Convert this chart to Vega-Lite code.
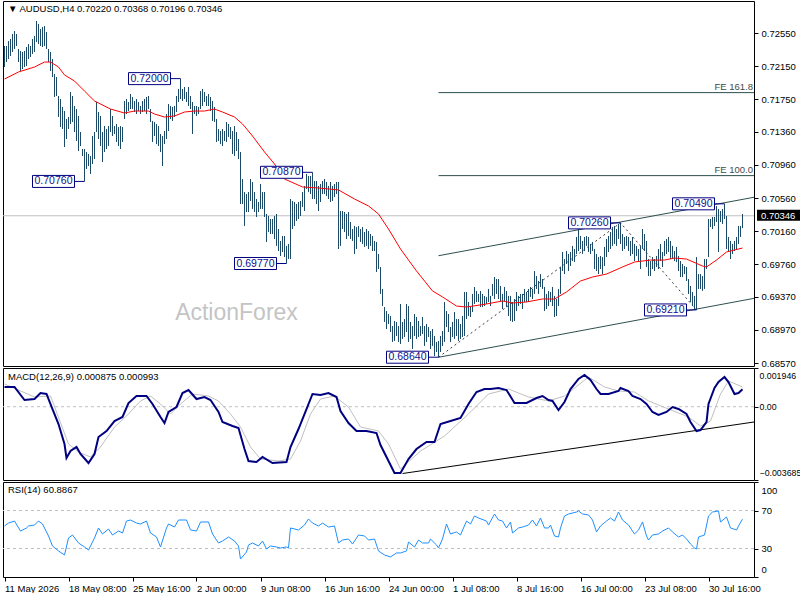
{
  "$schema": "https://vega.github.io/schema/vega-lite/v6.json",
  "padding": {"left": 0, "top": 0, "right": 0, "bottom": 0},
  "background": "white",
  "spacing": 2,
  "bounds": "flush",
  "config": {
    "view": {"stroke": "#000000", "strokeWidth": 1},
    "font": "Liberation Sans",
    "axis": {"labelFont": "Liberation Sans", "labelFontSize": 9.5, "labelColor": "#000000", "tickColor": "#000000", "tickSize": 4, "domain": false, "grid": false, "labelPadding": 3, "labelOverlap": false},
    "title": {"font": "Liberation Sans", "fontSize": 9.5, "fontWeight": "normal", "color": "#000000", "anchor": "start", "frame": "group", "baseline": "alphabetic"}
  },
  "resolve": {"scale": {"x": "independent", "y": "independent"}},
  "datasets": {
    "bars": [
      {"i":0,"h":0.72393,"l":0.72140},{"i":1,"h":0.72393,"l":0.72200},{"i":2,"h":0.72453,"l":0.72236},{"i":3,"h":0.72478,"l":0.72273},{"i":4,"h":0.72538,"l":0.72321},{"i":5,"h":0.72574,"l":0.72357},{"i":6,"h":0.72538,"l":0.72393},{"i":7,"h":0.72357,"l":0.72200},{"i":8,"h":0.72333,"l":0.72092},{"i":9,"h":0.72321,"l":0.72116},
      {"i":10,"h":0.72333,"l":0.72140},{"i":11,"h":0.72381,"l":0.72152},{"i":12,"h":0.72417,"l":0.72236},{"i":13,"h":0.72393,"l":0.72261},{"i":14,"h":0.72478,"l":0.72297},{"i":15,"h":0.72514,"l":0.72321},{"i":16,"h":0.72695,"l":0.72441},{"i":17,"h":0.72659,"l":0.72417},{"i":18,"h":0.72598,"l":0.72393},{"i":19,"h":0.72622,"l":0.72381},
      {"i":20,"h":0.72634,"l":0.72393},{"i":21,"h":0.72562,"l":0.72357},{"i":22,"h":0.72357,"l":0.72200},{"i":23,"h":0.72321,"l":0.72092},{"i":24,"h":0.72236,"l":0.72019},{"i":25,"h":0.72055,"l":0.71778},{"i":26,"h":0.72019,"l":0.71790},{"i":27,"h":0.71790,"l":0.71537},{"i":28,"h":0.71754,"l":0.71416},{"i":29,"h":0.71658,"l":0.71392},
      {"i":30,"h":0.71609,"l":0.71175},{"i":31,"h":0.71513,"l":0.71272},{"i":32,"h":0.71537,"l":0.71392},{"i":33,"h":0.71838,"l":0.71453},{"i":34,"h":0.71790,"l":0.71477},{"i":35,"h":0.71670,"l":0.71356},{"i":36,"h":0.71633,"l":0.71247},{"i":37,"h":0.71549,"l":0.71127},{"i":38,"h":0.71356,"l":0.71187},{"i":39,"h":0.71151,"l":0.71066},
      {"i":40,"h":0.71151,"l":0.70760},{"i":41,"h":0.71115,"l":0.70910},{"i":42,"h":0.71091,"l":0.70946},{"i":43,"h":0.71066,"l":0.70850},{"i":44,"h":0.71308,"l":0.70970},{"i":45,"h":0.71356,"l":0.71030},{"i":46,"h":0.71718,"l":0.71356},{"i":47,"h":0.71597,"l":0.71272},{"i":48,"h":0.71549,"l":0.71187},{"i":49,"h":0.71356,"l":0.70994},
      {"i":50,"h":0.71428,"l":0.71115},{"i":51,"h":0.71392,"l":0.71151},{"i":52,"h":0.71428,"l":0.71187},{"i":53,"h":0.71633,"l":0.71356},{"i":54,"h":0.71549,"l":0.71308},{"i":55,"h":0.71428,"l":0.71332},{"i":56,"h":0.71453,"l":0.71235},{"i":57,"h":0.71416,"l":0.71187},{"i":58,"h":0.71428,"l":0.71151},{"i":59,"h":0.71416,"l":0.71235},
      {"i":60,"h":0.71730,"l":0.71513},{"i":61,"h":0.71754,"l":0.71573},{"i":62,"h":0.71718,"l":0.71609},{"i":63,"h":0.71814,"l":0.71633},{"i":64,"h":0.71778,"l":0.71633},{"i":65,"h":0.71730,"l":0.71597},{"i":66,"h":0.71754,"l":0.71573},{"i":67,"h":0.71718,"l":0.71609},{"i":68,"h":0.71670,"l":0.71573},{"i":69,"h":0.71730,"l":0.71597},
      {"i":70,"h":0.71754,"l":0.71609},{"i":71,"h":0.71778,"l":0.71573},{"i":72,"h":0.71790,"l":0.71633},{"i":73,"h":0.71633,"l":0.71477},{"i":74,"h":0.71489,"l":0.71235},{"i":75,"h":0.71477,"l":0.71308},{"i":76,"h":0.71453,"l":0.71211},{"i":77,"h":0.71428,"l":0.71187},{"i":78,"h":0.71332,"l":0.71115},{"i":79,"h":0.71308,"l":0.70946},
      {"i":80,"h":0.71368,"l":0.71211},{"i":81,"h":0.71573,"l":0.71272},{"i":82,"h":0.71694,"l":0.71368},{"i":83,"h":0.71670,"l":0.71513},{"i":84,"h":0.71658,"l":0.71489},{"i":85,"h":0.71670,"l":0.71537},{"i":86,"h":0.71790,"l":0.71597},{"i":87,"h":0.71875,"l":0.71718},{"i":88,"h":0.72000,"l":0.71754},{"i":89,"h":0.71875,"l":0.71730},
      {"i":90,"h":0.71899,"l":0.71754},{"i":91,"h":0.71838,"l":0.71718},{"i":92,"h":0.71899,"l":0.71670},{"i":93,"h":0.71790,"l":0.71633},{"i":94,"h":0.71718,"l":0.71332},{"i":95,"h":0.71670,"l":0.71573},{"i":96,"h":0.71670,"l":0.71549},{"i":97,"h":0.71658,"l":0.71573},{"i":98,"h":0.71850,"l":0.71633},{"i":99,"h":0.71875,"l":0.71670},
      {"i":100,"h":0.71838,"l":0.71718},{"i":101,"h":0.71790,"l":0.71670},{"i":102,"h":0.71814,"l":0.71670},{"i":103,"h":0.71778,"l":0.71609},{"i":104,"h":0.71730,"l":0.71489},{"i":105,"h":0.71658,"l":0.71477},{"i":106,"h":0.71513,"l":0.71235},{"i":107,"h":0.71392,"l":0.71247},{"i":108,"h":0.71368,"l":0.71211},{"i":109,"h":0.71392,"l":0.71187},
      {"i":110,"h":0.71368,"l":0.71247},{"i":111,"h":0.71477,"l":0.71235},{"i":112,"h":0.71453,"l":0.71296},{"i":113,"h":0.71416,"l":0.71272},{"i":114,"h":0.71368,"l":0.71091},{"i":115,"h":0.71428,"l":0.71066},{"i":116,"h":0.71356,"l":0.71127},{"i":117,"h":0.71272,"l":0.71030},{"i":118,"h":0.71115,"l":0.70488},{"i":119,"h":0.70789,"l":0.70488},
      {"i":120,"h":0.70632,"l":0.70223},{"i":121,"h":0.70608,"l":0.70391},{"i":122,"h":0.70632,"l":0.70391},{"i":123,"h":0.70789,"l":0.70524},{"i":124,"h":0.70753,"l":0.70427},{"i":125,"h":0.70632,"l":0.70391},{"i":126,"h":0.70548,"l":0.70331},{"i":127,"h":0.70512,"l":0.70391},{"i":128,"h":0.70729,"l":0.70427},{"i":129,"h":0.70632,"l":0.70427},
      {"i":130,"h":0.70632,"l":0.70331},{"i":131,"h":0.70367,"l":0.70030},{"i":132,"h":0.70343,"l":0.70150},{"i":133,"h":0.70307,"l":0.70126},{"i":134,"h":0.70307,"l":0.70126},{"i":135,"h":0.70343,"l":0.70066},{"i":136,"h":0.70367,"l":0.69982},{"i":137,"h":0.70186,"l":0.69921},{"i":138,"h":0.70042,"l":0.69861},{"i":139,"h":0.70102,"l":0.69909},
      {"i":140,"h":0.70102,"l":0.69848},{"i":141,"h":0.69982,"l":0.69770},{"i":142,"h":0.70006,"l":0.69824},{"i":143,"h":0.70548,"l":0.69824},{"i":144,"h":0.70524,"l":0.70186},{"i":145,"h":0.70512,"l":0.70223},{"i":146,"h":0.70488,"l":0.70283},{"i":147,"h":0.70512,"l":0.70307},{"i":148,"h":0.70524,"l":0.70343},{"i":149,"h":0.70632,"l":0.70451},
      {"i":150,"h":0.70705,"l":0.70403},{"i":151,"h":0.70850,"l":0.70669},{"i":152,"h":0.70825,"l":0.70632},{"i":153,"h":0.70825,"l":0.70608},{"i":154,"h":0.70870,"l":0.70548},{"i":155,"h":0.70765,"l":0.70548},{"i":156,"h":0.70765,"l":0.70488},{"i":157,"h":0.70705,"l":0.70403},{"i":158,"h":0.70729,"l":0.70512},{"i":159,"h":0.70765,"l":0.70608},
      {"i":160,"h":0.70789,"l":0.70608},{"i":161,"h":0.70753,"l":0.70584},{"i":162,"h":0.70705,"l":0.70548},{"i":163,"h":0.70753,"l":0.70512},{"i":164,"h":0.70705,"l":0.70524},{"i":165,"h":0.70729,"l":0.70572},{"i":166,"h":0.70753,"l":0.70608},{"i":167,"h":0.70753,"l":0.69945},{"i":168,"h":0.70403,"l":0.69982},{"i":169,"h":0.70403,"l":0.70186},
      {"i":170,"h":0.70391,"l":0.70150},{"i":171,"h":0.70367,"l":0.70066},{"i":172,"h":0.70391,"l":0.70102},{"i":173,"h":0.70271,"l":0.70066},{"i":174,"h":0.70186,"l":0.70042},{"i":175,"h":0.70223,"l":0.69885},{"i":176,"h":0.70210,"l":0.69945},{"i":177,"h":0.70223,"l":0.70090},{"i":178,"h":0.70186,"l":0.70030},{"i":179,"h":0.70210,"l":0.70006},
      {"i":180,"h":0.70150,"l":0.69970},{"i":181,"h":0.70186,"l":0.69982},{"i":182,"h":0.70162,"l":0.69945},{"i":183,"h":0.70126,"l":0.69982},{"i":184,"h":0.70102,"l":0.69921},{"i":185,"h":0.70042,"l":0.69921},{"i":186,"h":0.70030,"l":0.69668},{"i":187,"h":0.69885,"l":0.69704},{"i":188,"h":0.69728,"l":0.69403},{"i":189,"h":0.69463,"l":0.69257},
      {"i":190,"h":0.69245,"l":0.69065},{"i":191,"h":0.69197,"l":0.68980},{"i":192,"h":0.69161,"l":0.69041},{"i":193,"h":0.69137,"l":0.68944},{"i":194,"h":0.69016,"l":0.68824},{"i":195,"h":0.69077,"l":0.68836},{"i":196,"h":0.69065,"l":0.68896},{"i":197,"h":0.69016,"l":0.68824},{"i":198,"h":0.69282,"l":0.68800},{"i":199,"h":0.69065,"l":0.68860},
      {"i":200,"h":0.69101,"l":0.68884},{"i":201,"h":0.69282,"l":0.68944},{"i":202,"h":0.69257,"l":0.68824},{"i":203,"h":0.69065,"l":0.68860},{"i":204,"h":0.69016,"l":0.68739},{"i":205,"h":0.69161,"l":0.68896},{"i":206,"h":0.69125,"l":0.68860},{"i":207,"h":0.69077,"l":0.68884},{"i":208,"h":0.69016,"l":0.68896},{"i":209,"h":0.69125,"l":0.68920},
      {"i":210,"h":0.69016,"l":0.68776},{"i":211,"h":0.69041,"l":0.68824},{"i":212,"h":0.69004,"l":0.68884},{"i":213,"h":0.68956,"l":0.68739},{"i":214,"h":0.68980,"l":0.68776},{"i":215,"h":0.68896,"l":0.68655},{"i":216,"h":0.68824,"l":0.68703},{"i":217,"h":0.68836,"l":0.68640},{"i":218,"h":0.68896,"l":0.68703},{"i":219,"h":0.68956,"l":0.68776},
      {"i":220,"h":0.69306,"l":0.68824},{"i":221,"h":0.69197,"l":0.69004},{"i":222,"h":0.69161,"l":0.68944},{"i":223,"h":0.69004,"l":0.68824},{"i":224,"h":0.69065,"l":0.68884},{"i":225,"h":0.69185,"l":0.68860},{"i":226,"h":0.69101,"l":0.68896},{"i":227,"h":0.69101,"l":0.68836},{"i":228,"h":0.69041,"l":0.68860},{"i":229,"h":0.69137,"l":0.68884},
      {"i":230,"h":0.69427,"l":0.68896},{"i":231,"h":0.69427,"l":0.69101},{"i":232,"h":0.69306,"l":0.69137},{"i":233,"h":0.69245,"l":0.69125},{"i":234,"h":0.69403,"l":0.69185},{"i":235,"h":0.69487,"l":0.69282},{"i":236,"h":0.69439,"l":0.69306},{"i":237,"h":0.69403,"l":0.69306},{"i":238,"h":0.69439,"l":0.69245},{"i":239,"h":0.69403,"l":0.69245},
      {"i":240,"h":0.69379,"l":0.69257},{"i":241,"h":0.69367,"l":0.69282},{"i":242,"h":0.69463,"l":0.69306},{"i":243,"h":0.69379,"l":0.69257},{"i":244,"h":0.69523,"l":0.69379},{"i":245,"h":0.69607,"l":0.69342},{"i":246,"h":0.69583,"l":0.69403},{"i":247,"h":0.69583,"l":0.69342},{"i":248,"h":0.69499,"l":0.69318},{"i":249,"h":0.69403,"l":0.69221},
      {"i":250,"h":0.69487,"l":0.69318},{"i":251,"h":0.69439,"l":0.69245},{"i":252,"h":0.69379,"l":0.69137},{"i":253,"h":0.69379,"l":0.69077},{"i":254,"h":0.69306,"l":0.69065},{"i":255,"h":0.69342,"l":0.69077},{"i":256,"h":0.69427,"l":0.69197},{"i":257,"h":0.69379,"l":0.69257},{"i":258,"h":0.69403,"l":0.69282},{"i":259,"h":0.69403,"l":0.69221},
      {"i":260,"h":0.69463,"l":0.69306},{"i":261,"h":0.69427,"l":0.69306},{"i":262,"h":0.69463,"l":0.69306},{"i":263,"h":0.69487,"l":0.69367},{"i":264,"h":0.69463,"l":0.69342},{"i":265,"h":0.69680,"l":0.69403},{"i":266,"h":0.69619,"l":0.69463},{"i":267,"h":0.69559,"l":0.69403},{"i":268,"h":0.69643,"l":0.69487},{"i":269,"h":0.69583,"l":0.69463},
      {"i":270,"h":0.69487,"l":0.69197},{"i":271,"h":0.69403,"l":0.69221},{"i":272,"h":0.69439,"l":0.69257},{"i":273,"h":0.69427,"l":0.69306},{"i":274,"h":0.69487,"l":0.69257},{"i":275,"h":0.69379,"l":0.69125},{"i":276,"h":0.69342,"l":0.69137},{"i":277,"h":0.69463,"l":0.69257},{"i":278,"h":0.69728,"l":0.69403},{"i":279,"h":0.69909,"l":0.69680},
      {"i":280,"h":0.69824,"l":0.69643},{"i":281,"h":0.69921,"l":0.69764},{"i":282,"h":0.69885,"l":0.69680},{"i":283,"h":0.69909,"l":0.69740},{"i":284,"h":0.69982,"l":0.69800},{"i":285,"h":0.69945,"l":0.69788},{"i":286,"h":0.70090,"l":0.69885},{"i":287,"h":0.70210,"l":0.69921},{"i":288,"h":0.70102,"l":0.69945},{"i":289,"h":0.70042,"l":0.69885},
      {"i":290,"h":0.70090,"l":0.69921},{"i":291,"h":0.70102,"l":0.69982},{"i":292,"h":0.70090,"l":0.69909},{"i":293,"h":0.70006,"l":0.69885},{"i":294,"h":0.70030,"l":0.69921},{"i":295,"h":0.69945,"l":0.69704},{"i":296,"h":0.69885,"l":0.69680},{"i":297,"h":0.69848,"l":0.69643},{"i":298,"h":0.69861,"l":0.69704},{"i":299,"h":0.69848,"l":0.69643},
      {"i":300,"h":0.69970,"l":0.69740},{"i":301,"h":0.70066,"l":0.69848},{"i":302,"h":0.70102,"l":0.69909},{"i":303,"h":0.70150,"l":0.69945},{"i":304,"h":0.70210,"l":0.69982},{"i":305,"h":0.70223,"l":0.70006},{"i":306,"h":0.70186,"l":0.69982},{"i":307,"h":0.70247,"l":0.70066},{"i":308,"h":0.70260,"l":0.70006},{"i":309,"h":0.70126,"l":0.69921},
      {"i":310,"h":0.70090,"l":0.69945},{"i":311,"h":0.70102,"l":0.69982},{"i":312,"h":0.70090,"l":0.69921},{"i":313,"h":0.70042,"l":0.69861},{"i":314,"h":0.70090,"l":0.69885},{"i":315,"h":0.70006,"l":0.69800},{"i":316,"h":0.69982,"l":0.69861},{"i":317,"h":0.69945,"l":0.69800},{"i":318,"h":0.69982,"l":0.69704},{"i":319,"h":0.70186,"l":0.69945},
      {"i":320,"h":0.70126,"l":0.69921},{"i":321,"h":0.70042,"l":0.69728},{"i":322,"h":0.69824,"l":0.69619},{"i":323,"h":0.69800,"l":0.69619},{"i":324,"h":0.69848,"l":0.69704},{"i":325,"h":0.69824,"l":0.69680},{"i":326,"h":0.69861,"l":0.69728},{"i":327,"h":0.69945,"l":0.69704},{"i":328,"h":0.70006,"l":0.69800},{"i":329,"h":0.69909,"l":0.69728},
      {"i":330,"h":0.70042,"l":0.69861},{"i":331,"h":0.70066,"l":0.69885},{"i":332,"h":0.70090,"l":0.69909},{"i":333,"h":0.70042,"l":0.69824},{"i":334,"h":0.69982,"l":0.69824},{"i":335,"h":0.69921,"l":0.69800},{"i":336,"h":0.69970,"l":0.69788},{"i":337,"h":0.69861,"l":0.69680},{"i":338,"h":0.69800,"l":0.69607},{"i":339,"h":0.69764,"l":0.69607},
      {"i":340,"h":0.69740,"l":0.69643},{"i":341,"h":0.69728,"l":0.69559},{"i":342,"h":0.69583,"l":0.69403},{"i":343,"h":0.69499,"l":0.69306},{"i":344,"h":0.69427,"l":0.69257},{"i":345,"h":0.69379,"l":0.69221},{"i":346,"h":0.69848,"l":0.69210},{"i":347,"h":0.69643,"l":0.69463},{"i":348,"h":0.69643,"l":0.69463},{"i":349,"h":0.69619,"l":0.69439},
      {"i":350,"h":0.69824,"l":0.69463},{"i":351,"h":0.69824,"l":0.69704},{"i":352,"h":0.70307,"l":0.69848},{"i":353,"h":0.70307,"l":0.70210},{"i":354,"h":0.70331,"l":0.70186},{"i":355,"h":0.70331,"l":0.70223},{"i":356,"h":0.70464,"l":0.70271},{"i":357,"h":0.70427,"l":0.69909},{"i":358,"h":0.70403,"l":0.70271},{"i":359,"h":0.70427,"l":0.70247},
      {"i":360,"h":0.70490,"l":0.70307},{"i":361,"h":0.70343,"l":0.69945},{"i":362,"h":0.70090,"l":0.69921},{"i":363,"h":0.70042,"l":0.69824},{"i":364,"h":0.70006,"l":0.69885},{"i":365,"h":0.70042,"l":0.69921},{"i":366,"h":0.70090,"l":0.69945},{"i":367,"h":0.70223,"l":0.70006},{"i":368,"h":0.70223,"l":0.70090},{"i":369,"h":0.70368,"l":0.70196}
    ],
    "ma": [
      {"i":0,"v":0.71995},{"i":7,"v":0.72080},{"i":15,"v":0.72140},{"i":20,"v":0.72200},{"i":23,"v":0.72200},{"i":27,"v":0.72140},{"i":30,"v":0.72044},{"i":35,"v":0.71971},{"i":40,"v":0.71850},{"i":45,"v":0.71730},
      {"i":53,"v":0.71633},{"i":60,"v":0.71585},{"i":65,"v":0.71609},{"i":72,"v":0.71609},{"i":75,"v":0.71573},{"i":80,"v":0.71537},{"i":85,"v":0.71549},{"i":90,"v":0.71597},{"i":95,"v":0.71609},{"i":100,"v":0.71609},
      {"i":105,"v":0.71633},{"i":109,"v":0.71597},{"i":115,"v":0.71537},{"i":119,"v":0.71453},{"i":124,"v":0.71308},{"i":130,"v":0.71115},{"i":135,"v":0.70970},{"i":140,"v":0.70789},{"i":149,"v":0.70693},{"i":157,"v":0.70681},
      {"i":167,"v":0.70657},{"i":175,"v":0.70548},{"i":182,"v":0.70464},{"i":187,"v":0.70367},{"i":192,"v":0.70186},{"i":198,"v":0.69945},{"i":206,"v":0.69680},{"i":214,"v":0.69439},{"i":219,"v":0.69367},{"i":226,"v":0.69257},
      {"i":231,"v":0.69245},{"i":241,"v":0.69282},{"i":249,"v":0.69318},{"i":254,"v":0.69294},{"i":261,"v":0.69306},{"i":269,"v":0.69342},{"i":275,"v":0.69342},{"i":281,"v":0.69427},{"i":288,"v":0.69559},{"i":294,"v":0.69607},
      {"i":301,"v":0.69643},{"i":309,"v":0.69728},{"i":315,"v":0.69788},{"i":323,"v":0.69812},{"i":330,"v":0.69812},{"i":335,"v":0.69836},{"i":341,"v":0.69824},{"i":349,"v":0.69740},{"i":351,"v":0.69728},{"i":356,"v":0.69812},
      {"i":361,"v":0.69909},{"i":369,"v":0.69957}
    ],
    "fe": [
      {"i":217,"i2":374.75,"p":0.71831,"t":"FE 161.8"},
      {"i":217,"i2":374.75,"p":0.70830,"t":"FE 100.0"}
    ],
    "chan": [
      {"g":"upper","i":217,"p":0.69864},{"g":"upper","i":374.75,"p":0.70569},
      {"g":"lower","i":217,"p":0.68639},{"g":"lower","i":374.75,"p":0.69350}
    ],
    "zz": [
      {"i":217,"p":0.68640},{"i":308,"p":0.70260},{"i":346,"p":0.69210}
    ],
    "lbl": [
      {"i":88,"p":0.72000,"t":"0.72000"},{"i":40,"p":0.70760,"t":"0.70760"},{"i":154,"p":0.70870,"t":"0.70870"},{"i":141,"p":0.69770,"t":"0.69770"},
      {"i":217,"p":0.68640,"t":"0.68640"},{"i":308,"p":0.70260,"t":"0.70260"},{"i":360,"p":0.70490,"t":"0.70490"},{"i":346,"p":0.69210,"t":"0.69210"}
    ],
    "last": [{"p":0.70346,"t":"0.70346"}],
    "wm": [{"i":116,"p":0.69092,"t":"ActionForex"}],
    "macd": [
      {"i":0,"m":0.000991},{"i":5,"m":0.000991},{"i":10,"m":0.000337},{"i":15,"m":0.000387},{"i":18,"m":0.000689},{"i":21,"m":0.000639},{"i":24,"m":-0.000116},{"i":27,"m":-0.000870},{"i":30,"m":-0.001875},{"i":31,"m":-0.002579},
      {"i":33,"m":-0.002227},{"i":36,"m":-0.002026},{"i":38,"m":-0.002378},{"i":42,"m":-0.002831},{"i":45,"m":-0.002378},{"i":47,"m":-0.001523},{"i":51,"m":-0.001222},{"i":55,"m":-0.000719},{"i":59,"m":-0.000518},{"i":62,"m":0.000186},
      {"i":66,"m":0.000538},{"i":71,"m":0.000538},{"i":74,"m":0.000136},{"i":78,"m":-0.000518},{"i":80,"m":-0.000820},{"i":82,"m":-0.000266},{"i":86,"m":-0.000015},{"i":89,"m":0.000689},{"i":92,"m":0.000840},{"i":96,"m":0.000387},
      {"i":100,"m":0.000488},{"i":103,"m":0.000337},{"i":107,"m":-0.000266},{"i":109,"m":-0.000769},{"i":114,"m":-0.000970},{"i":117,"m":-0.001071},{"i":120,"m":-0.002127},{"i":122,"m":-0.002730},{"i":126,"m":-0.002780},{"i":129,"m":-0.002529},
      {"i":134,"m":-0.002831},{"i":141,"m":-0.002780},{"i":143,"m":-0.002026},{"i":147,"m":-0.001121},{"i":151,"m":-0.000116},{"i":154,"m":0.000639},{"i":158,"m":0.000588},{"i":162,"m":0.000689},{"i":166,"m":0.000488},{"i":168,"m":-0.000216},
      {"i":172,"m":-0.000820},{"i":176,"m":-0.001222},{"i":181,"m":-0.001222},{"i":186,"m":-0.001322},{"i":188,"m":-0.001926},{"i":192,"m":-0.002730},{"i":195,"m":-0.003334},{"i":198,"m":-0.003334},{"i":202,"m":-0.002630},{"i":206,"m":-0.002127},
      {"i":211,"m":-0.001775},{"i":215,"m":-0.001775},{"i":218,"m":-0.000870},{"i":223,"m":-0.000719},{"i":228,"m":-0.000568},{"i":232,"m":0.000136},{"i":236,"m":0.000739},{"i":240,"m":0.000890},{"i":243,"m":0.000890},{"i":247,"m":0.000940},
      {"i":251,"m":0.000840},{"i":255,"m":0.000186},{"i":261,"m":0.000186},{"i":266,"m":0.000437},{"i":269,"m":0.000538},{"i":272,"m":0.000337},{"i":274,"m":0.000287},{"i":277,"m":-0.000166},{"i":280,"m":0.000236},{"i":283,"m":0.000890},
      {"i":287,"m":0.001393},{"i":290,"m":0.001594},{"i":293,"m":0.001342},{"i":296,"m":0.000890},{"i":298,"m":0.000639},{"i":302,"m":0.000639},{"i":307,"m":0.000789},{"i":308,"m":0.000940},{"i":312,"m":0.000789},{"i":314,"m":0.000538},
      {"i":318,"m":0.000387},{"i":321,"m":0.000136},{"i":324,"m":-0.000266},{"i":327,"m":-0.000417},{"i":331,"m":-0.000266},{"i":334,"m":-0.000015},{"i":337,"m":-0.000116},{"i":341,"m":-0.000367},{"i":343,"m":-0.000769},{"i":346,"m":-0.001222},
      {"i":348,"m":-0.001172},{"i":351,"m":-0.000769},{"i":352,"m":0.000136},{"i":355,"m":0.000940},{"i":357,"m":0.001242},{"i":360,"m":0.001493},{"i":362,"m":0.001242},{"i":365,"m":0.000639},{"i":367,"m":0.000689},{"i":369,"m":0.000875}
    ],
    "sig": [
      {"i":0,"s":0.001141},{"i":15,"s":0.000488},{"i":23,"s":0.000538},{"i":32,"s":-0.001875},{"i":37,"s":-0.002278},{"i":43,"s":-0.002529},{"i":48,"s":-0.002026},{"i":55,"s":-0.001021},{"i":62,"s":-0.000367},{"i":68,"s":0.000287},
      {"i":73,"s":0.000538},{"i":78,"s":0.000136},{"i":83,"s":-0.000367},{"i":88,"s":0.000136},{"i":94,"s":0.000639},{"i":102,"s":0.000538},{"i":107,"s":0.000287},{"i":113,"s":-0.000367},{"i":118,"s":-0.001021},{"i":123,"s":-0.002026},
      {"i":128,"s":-0.002630},{"i":137,"s":-0.002730},{"i":143,"s":-0.002630},{"i":148,"s":-0.001725},{"i":153,"s":-0.000367},{"i":158,"s":0.000387},{"i":165,"s":0.000538},{"i":172,"s":-0.000015},{"i":178,"s":-0.001021},{"i":187,"s":-0.001222},
      {"i":192,"s":-0.001875},{"i":198,"s":-0.003132},{"i":208,"s":-0.002227},{"i":220,"s":-0.001473},{"i":232,"s":-0.000367},{"i":242,"s":0.000639},{"i":252,"s":0.000890},{"i":262,"s":0.000488},{"i":272,"s":0.000287},{"i":280,"s":0.000538},
      {"i":292,"s":0.001493},{"i":300,"s":0.000991},{"i":307,"s":0.000789},{"i":315,"s":0.000739},{"i":322,"s":0.000287},{"i":332,"s":-0.000116},{"i":342,"s":-0.000518},{"i":348,"s":-0.000970},{"i":353,"s":-0.000719},{"i":358,"s":0.000639},
      {"i":362,"s":0.001292},{"i":369,"s":0.000993}
    ],
    "mtl": [{"i":199,"m":-0.003359},{"i":374.75,"m":-0.000769}],
    "zero": [{"v":0}],
    "lv": [{"v":30},{"v":70}],
    "rsi": [
      {"i":0,"r":53.7},{"i":2,"r":56.8},{"i":5,"r":58.9},{"i":8,"r":48.4},{"i":11,"r":51.6},{"i":12,"r":53.7},{"i":15,"r":54.7},{"i":17,"r":58.9},{"i":19,"r":55.8},{"i":22,"r":43.2},
      {"i":24,"r":32.6},{"i":27,"r":27.4},{"i":30,"r":23.2},{"i":32,"r":41.1},{"i":34,"r":44.2},{"i":37,"r":35.8},{"i":40,"r":31.6},{"i":42,"r":28.4},{"i":45,"r":41.1},{"i":47,"r":51.6},
      {"i":49,"r":45.3},{"i":52,"r":50.5},{"i":54,"r":44.2},{"i":57,"r":48.4},{"i":59,"r":46.3},{"i":61,"r":58.9},{"i":63,"r":60.0},{"i":66,"r":56.8},{"i":68,"r":55.8},{"i":71,"r":58.9},
      {"i":73,"r":46.3},{"i":76,"r":42.1},{"i":78,"r":31.6},{"i":81,"r":51.6},{"i":82,"r":55.8},{"i":85,"r":52.6},{"i":87,"r":60.0},{"i":91,"r":60.0},{"i":93,"r":49.5},{"i":96,"r":48.4},
      {"i":98,"r":57.9},{"i":102,"r":57.9},{"i":104,"r":45.3},{"i":107,"r":35.8},{"i":109,"r":37.9},{"i":112,"r":42.1},{"i":115,"r":37.9},{"i":117,"r":32.6},{"i":118,"r":18.9},{"i":121,"r":26.3},
      {"i":122,"r":33.7},{"i":124,"r":35.8},{"i":127,"r":32.6},{"i":129,"r":37.9},{"i":131,"r":29.5},{"i":133,"r":32.6},{"i":136,"r":31.6},{"i":138,"r":30.5},{"i":141,"r":31.6},{"i":142,"r":30.5},
      {"i":143,"r":51.6},{"i":147,"r":49.5},{"i":150,"r":54.7},{"i":152,"r":61.1},{"i":154,"r":56.8},{"i":157,"r":53.7},{"i":159,"r":56.8},{"i":162,"r":52.6},{"i":165,"r":53.7},{"i":167,"r":35.8},
      {"i":169,"r":38.9},{"i":172,"r":40.0},{"i":174,"r":34.7},{"i":177,"r":44.2},{"i":180,"r":43.2},{"i":182,"r":38.9},{"i":185,"r":40.0},{"i":187,"r":27.4},{"i":190,"r":23.2},{"i":193,"r":21.1},
      {"i":196,"r":25.3},{"i":198,"r":25.3},{"i":201,"r":27.4},{"i":202,"r":36.8},{"i":205,"r":31.6},{"i":207,"r":38.9},{"i":209,"r":35.8},{"i":212,"r":35.8},{"i":213,"r":40.0},{"i":216,"r":33.7},
      {"i":217,"r":30.5},{"i":219,"r":40.0},{"i":221,"r":55.8},{"i":223,"r":45.3},{"i":226,"r":47.4},{"i":228,"r":44.2},{"i":231,"r":58.9},{"i":233,"r":55.8},{"i":235,"r":64.2},{"i":237,"r":62.1},
      {"i":241,"r":58.9},{"i":242,"r":54.7},{"i":245,"r":66.3},{"i":247,"r":60.0},{"i":249,"r":58.9},{"i":251,"r":51.6},{"i":253,"r":57.9},{"i":254,"r":46.3},{"i":257,"r":51.6},{"i":259,"r":52.6},
      {"i":262,"r":54.7},{"i":264,"r":60.0},{"i":266,"r":53.7},{"i":268,"r":62.1},{"i":270,"r":51.6},{"i":272,"r":51.6},{"i":273,"r":54.7},{"i":275,"r":43.2},{"i":277,"r":42.1},{"i":278,"r":51.6},
      {"i":280,"r":64.2},{"i":282,"r":66.3},{"i":286,"r":68.4},{"i":287,"r":69.5},{"i":289,"r":66.3},{"i":292,"r":65.3},{"i":294,"r":60.0},{"i":296,"r":47.4},{"i":298,"r":53.7},{"i":301,"r":58.9},
      {"i":303,"r":62.1},{"i":305,"r":58.9},{"i":307,"r":68.4},{"i":309,"r":60.0},{"i":312,"r":54.7},{"i":313,"r":51.6},{"i":315,"r":45.3},{"i":317,"r":49.5},{"i":319,"r":57.9},{"i":321,"r":43.2},
      {"i":322,"r":38.9},{"i":324,"r":44.2},{"i":327,"r":45.3},{"i":329,"r":48.4},{"i":332,"r":51.6},{"i":334,"r":47.4},{"i":337,"r":42.1},{"i":339,"r":44.2},{"i":341,"r":40.0},{"i":343,"r":34.7},
      {"i":345,"r":30.5},{"i":346,"r":29.5},{"i":347,"r":42.1},{"i":350,"r":44.2},{"i":352,"r":64.2},{"i":354,"r":68.4},{"i":357,"r":69.5},{"i":358,"r":57.9},{"i":361,"r":63.2},{"i":363,"r":51.6},
      {"i":366,"r":49.5},{"i":367,"r":53.7},{"i":369,"r":60.8867}
    ]
  },
  "vconcat": [
    {
      "width": 751,
      "height": 365,
      "title": {"text": "▼ AUDUSD,H4  0.70220 0.70368 0.70196 0.70346", "offset": -12, "dx": 5},
      "layer": [
        {
          "data": {"name": "last"},
          "mark": {"type": "rule", "color": "#c0c0c0", "strokeWidth": 1},
          "encoding": {"y": {"field": "p", "type": "quantitative", "title": null, "scale": {"domain": [0.68534, 0.72936], "nice": false, "zero": false},
            "axis": {"orient": "right", "values": [0.68570, 0.68970, 0.69370, 0.69760, 0.70160, 0.70560, 0.70960, 0.71360, 0.71750, 0.72150, 0.72550], "tickCount": 40, "format": ".5f", "labelFlush": false, "labelOverlap": false, "labelBound": false}}}
        },
        {
          "data": {"name": "fe"},
          "mark": {"type": "rule", "color": "#2f4f4f", "strokeWidth": 1},
          "encoding": {
            "x": {"field": "i", "type": "quantitative", "scale": {"domain": [-0.75, 374.75], "nice": false, "zero": false}, "axis": null},
            "x2": {"field": "i2"},
            "y": {"field": "p", "type": "quantitative"}
          }
        },
        {
          "data": {"name": "fe"},
          "mark": {"type": "text", "align": "right", "baseline": "alphabetic", "dy": -3, "dx": -1, "fontSize": 9.5, "color": "#3c4a4a"},
          "encoding": {
            "x": {"field": "i2", "type": "quantitative"},
            "y": {"field": "p", "type": "quantitative"},
            "text": {"field": "t"}
          }
        },
        {
          "data": {"name": "chan"},
          "mark": {"type": "line", "color": "#2f4f4f", "strokeWidth": 1},
          "encoding": {
            "x": {"field": "i", "type": "quantitative"},
            "y": {"field": "p", "type": "quantitative"},
            "detail": {"field": "g"}
          }
        },
        {
          "data": {"name": "zz"},
          "mark": {"type": "line", "color": "#3a3a3a", "strokeWidth": 1, "strokeDash": [2, 3]},
          "encoding": {
            "x": {"field": "i", "type": "quantitative"},
            "y": {"field": "p", "type": "quantitative"}
          }
        },
        {
          "data": {"name": "wm"},
          "mark": {"type": "text", "align": "center", "baseline": "alphabetic", "fontSize": 23, "color": "#c4c4c4"},
          "encoding": {
            "x": {"field": "i", "type": "quantitative"},
            "y": {"field": "p", "type": "quantitative"},
            "text": {"field": "t"}
          }
        },
        {
          "data": {"name": "bars"},
          "mark": {"type": "rule", "color": "#1d4a66", "strokeWidth": 1},
          "encoding": {
            "x": {"field": "i", "type": "quantitative"},
            "y": {"field": "h", "type": "quantitative"},
            "y2": {"field": "l"}
          }
        },
        {
          "data": {"name": "ma"},
          "mark": {"type": "line", "color": "#ff0000", "strokeWidth": 1},
          "encoding": {
            "x": {"field": "i", "type": "quantitative"},
            "y": {"field": "v", "type": "quantitative"}
          }
        },
        {
          "data": {"name": "lbl"},
          "mark": {"type": "rule", "color": "#000080", "strokeWidth": 1, "xOffset": -10},
          "encoding": {
            "x": {"field": "i", "type": "quantitative"},
            "x2": {"field": "i"},
            "y": {"field": "p", "type": "quantitative"}
          }
        },
        {
          "data": {"name": "lbl"},
          "mark": {"type": "rect", "fill": "#ffffff", "stroke": "#000080", "strokeWidth": 1, "xOffset": -52, "x2Offset": -10, "yOffset": -6, "y2Offset": 6},
          "encoding": {
            "x": {"field": "i", "type": "quantitative"},
            "x2": {"field": "i"},
            "y": {"field": "p", "type": "quantitative"},
            "y2": {"field": "p"}
          }
        },
        {
          "data": {"name": "lbl"},
          "mark": {"type": "text", "align": "center", "baseline": "middle", "dx": -31, "fontSize": 10.5, "color": "#10108a"},
          "encoding": {
            "x": {"field": "i", "type": "quantitative"},
            "y": {"field": "p", "type": "quantitative"},
            "text": {"field": "t"}
          }
        },
        {
          "data": {"name": "last"},
          "mark": {"type": "rect", "fill": "#000000", "xOffset": 3, "x2Offset": 46, "yOffset": -6, "y2Offset": 5},
          "encoding": {
            "x": {"value": "width"},
            "x2": {"value": "width"},
            "y": {"field": "p", "type": "quantitative"},
            "y2": {"field": "p"}
          }
        },
        {
          "data": {"name": "last"},
          "mark": {"type": "text", "align": "left", "baseline": "middle", "dx": 7, "fontSize": 9.5, "color": "#ffffff"},
          "encoding": {
            "x": {"value": "width"},
            "y": {"field": "p", "type": "quantitative"},
            "text": {"field": "t"}
          }
        }
      ]
    },
    {
      "width": 751,
      "height": 112,
      "title": {"text": "MACD(12,26,9) 0.000875 0.000993", "offset": -13.5, "dx": 5},
      "layer": [
        {
          "data": {"name": "zero"},
          "mark": {"type": "rule", "color": "#c0c0c0", "strokeDash": [3, 3], "strokeWidth": 1},
          "encoding": {"y": {"field": "v", "type": "quantitative", "title": null, "scale": {"domain": [-0.003685, 0.001946], "nice": false, "zero": false},
            "axis": {"orient": "right", "values": [0.001946, 0, -0.003685], "tickCount": 20, "labelFlush": true, "labelFlushOffset": -3, "labelFontSize": 8.8, "labelPadding": 1, "labelOverlap": false, "labelExpr": "datum.value == 0 ? '0.00' : format(datum.value, '.6f')"}}}
        },
        {
          "data": {"name": "mtl"},
          "mark": {"type": "line", "color": "#000000", "strokeWidth": 1},
          "encoding": {
            "x": {"field": "i", "type": "quantitative", "scale": {"domain": [-0.75, 374.75], "nice": false, "zero": false}, "axis": null},
            "y": {"field": "m", "type": "quantitative"}
          }
        },
        {
          "data": {"name": "sig"},
          "mark": {"type": "line", "color": "#c0c0c0", "strokeWidth": 1},
          "encoding": {
            "x": {"field": "i", "type": "quantitative"},
            "y": {"field": "s", "type": "quantitative"}
          }
        },
        {
          "data": {"name": "macd"},
          "mark": {"type": "line", "color": "#000080", "strokeWidth": 2},
          "encoding": {
            "x": {"field": "i", "type": "quantitative"},
            "y": {"field": "m", "type": "quantitative"}
          }
        }
      ]
    },
    {
      "width": 751,
      "height": 95,
      "title": {"text": "RSI(14) 60.8867", "offset": -13, "dx": 5},
      "layer": [
        {
          "data": {"name": "lv"},
          "mark": {"type": "rule", "color": "#c0c0c0", "strokeDash": [3, 3], "strokeWidth": 1},
          "encoding": {"y": {"field": "v", "type": "quantitative", "title": null, "scale": {"domain": [0, 100], "nice": false, "zero": false},
            "axis": {"orient": "right", "values": [0, 30, 70, 100], "tickCount": 20, "labelFlush": true, "labelFlushOffset": -3, "labelOverlap": false}}}
        },
        {
          "data": {"name": "rsi"},
          "mark": {"type": "line", "color": "#1e90ff", "strokeWidth": 1},
          "encoding": {
            "x": {"field": "i", "type": "quantitative", "title": null, "scale": {"domain": [-0.75, 374.75], "nice": false, "zero": false},
              "axis": {"orient": "bottom", "values": [0, 32, 64, 96, 128, 160, 192, 224, 256, 288, 320, 352], "tickCount": 40, "labelAlign": "left", "labelFlush": false, "labelPadding": 2, "labelBaseline": "top", "labelOverlap": false,
                "labelExpr": "['11 May 2026','18 May 08:00','25 May 16:00','2 Jun 00:00','9 Jun 08:00','16 Jun 16:00','24 Jun 00:00','1 Jul 08:00','8 Jul 16:00','16 Jul 00:00','23 Jul 08:00','30 Jul 16:00'][round(datum.value / 32)]"}},
            "y": {"field": "r", "type": "quantitative"}
          }
        }
      ]
    }
  ]
}
